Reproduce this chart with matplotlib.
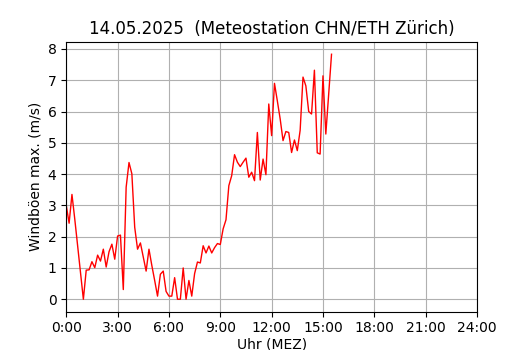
import numpy as np
import pandas as pd
import matplotlib
matplotlib.use("Agg")
import matplotlib.pyplot as plt
import matplotlib.dates as mdates

# Windböen (max.) in m/s, 10-Minuten-Werte ab 0:00
gusts = [3.0, 2.43, 3.35, 2.55, 1.7, 0.85, 0.0, 0.93, 0.94, 1.2,
         1.01, 1.41, 1.22, 1.6, 1.03, 1.52, 1.76, 1.28, 2.02, 2.05,
         0.31, 3.58, 4.37, 4.01, 2.3, 1.6, 1.8, 1.35, 0.9, 1.6,
         1.08, 0.6, 0.1, 0.8, 0.9, 0.25, 0.1, 0.1, 0.69, 0.0,
         0.0, 1.0, 0.0, 0.6, 0.1, 0.82, 1.19, 1.16, 1.71, 1.48,
         1.70, 1.48, 1.65, 1.78, 1.75, 2.25, 2.54, 3.63, 3.95, 4.62,
         4.38, 4.24, 4.38, 4.51, 3.9, 4.06, 3.79, 5.33, 3.81, 4.48,
         3.98, 6.24, 5.23, 6.9, 6.34, 5.76, 5.07, 5.36, 5.33, 4.69,
         5.09, 4.75, 5.4, 7.1, 6.82, 6.0, 5.92, 7.32, 4.68, 4.64,
         7.14, 5.28, 6.55, 7.83]

times = pd.date_range("2025-05-14 00:00", periods=len(gusts), freq="10min")
tag_start = pd.Timestamp("2025-05-14 00:00")
tag_ende = pd.Timestamp("2025-05-15 00:00")

fig, ax = plt.subplots(figsize=(5.3, 3.5), dpi=100)
ax.plot(times, gusts, color="red", linewidth=1)

ax.set_xlim(tag_start, tag_ende)
ax.xaxis.set_major_locator(mdates.HourLocator(byhour=range(0, 24, 3)))

ende_num = mdates.date2num(tag_ende)


def zeit_fmt(x, pos):
    # Tagesende als 24:00 statt 0:00 anzeigen
    if x >= ende_num - 1e-6:
        return "24:00"
    d = mdates.num2date(x)
    return "%d:%02d" % (d.hour, d.minute)


ax.xaxis.set_major_formatter(plt.FuncFormatter(zeit_fmt))

ax.grid(True)
ax.set_title("14.05.2025  (Meteostation CHN/ETH Zürich)")
ax.set_xlabel("Uhr (MEZ)", labelpad=1.5)
ax.set_ylabel("Windböen max. (m/s)")

fig.savefig("out.png")
